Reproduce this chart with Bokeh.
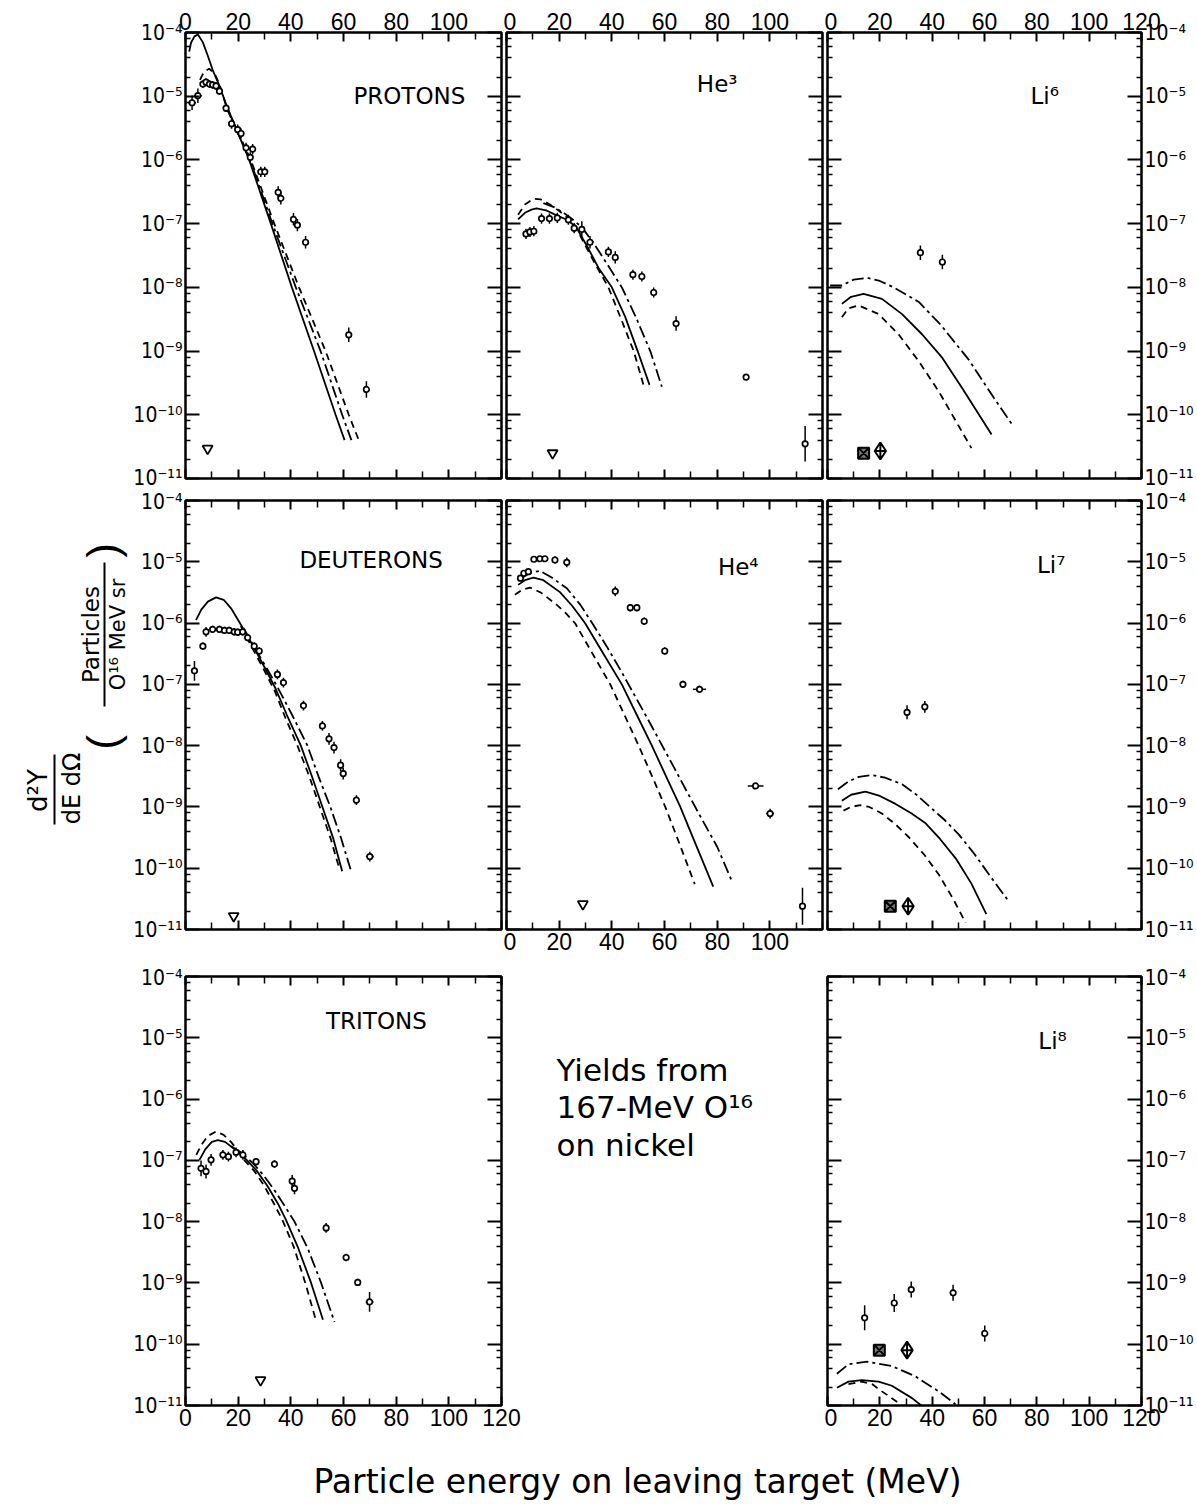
import math
from bokeh.plotting import figure
from bokeh.models import (Range1d, LinearAxis, LogAxis, FixedTicker,
                          CustomJSTickFormatter, Label)
from bokeh.layouts import row, column
from bokeh.embed import file_html
from bokeh.resources import INLINE

# ---------------------------------------------------------------- data
X_LAB_100 = [0, 20, 40, 60, 80, 100]
X_LAB_120 = [0, 20, 40, 60, 80, 100, 120]
X_MINOR = [10, 30, 50, 70, 90, 110]
Y_MAJOR = [1e-11, 1e-10, 1e-9, 1e-8, 1e-7, 1e-6, 1e-5, 1e-4]
Y_MINOR_MULT = [2, 4, 6, 8]

# PROTONS
PROTON_E = [2.5, 4.7, 6.6, 7.8, 9.1, 10.3, 11.6, 12.9, 15.4, 17.5, 19.8, 21.1,
            23.0, 24.6, 25.5, 28.6, 30.1, 35.2, 36.2, 41.0, 42.5, 45.6, 62.0, 68.7]
PROTON_Y = [7.9e-6, 1.02e-5, 1.55e-5, 1.66e-5, 1.55e-5, 1.51e-5, 1.45e-5, 1.2e-5,
            6.5e-6, 3.7e-6, 3.0e-6, 2.6e-6, 1.55e-6, 1.1e-6, 1.48e-6, 6.5e-7,
            6.5e-7, 3.1e-7, 2.5e-7, 1.17e-7, 9.5e-8, 5.1e-8, 1.8e-9, 2.5e-10]
PROTON_DY = [1.3, 1.3, 1.15, 1.15, 1.15, 1.15, 1.15, 1.15, 1.15, 1.2, 1.2, 1.2,
             1.2, 1.2, 1.2, 1.2, 1.2, 1.25, 1.25, 1.25, 1.25, 1.25, 1.3, 1.35]
PROTON_DX = [1.5, 1.5, 0, 0, 0, 0, 0, 0, 0, 0, 0, 0,
             0, 0, 0, 0, 0, 0, 0, 0, 0, 0, 0, 0]
PROTON_SOLID_E = [1.4, 2.1, 3.4, 4.7, 6.6, 8.4, 10.3, 12.9, 15.4, 19.8, 24.2, 32.4, 40.4, 48.8, 57.0, 60.4]
PROTON_SOLID_Y = [5.0e-5, 6.9e-5, 8.7e-5, 9.3e-5, 7.0e-5, 4.4e-5, 2.6e-5, 1.45e-5, 7.5e-6, 2.7e-6,
                  1.0e-6, 1.0e-7, 1.0e-8, 1.0e-9, 1.0e-10, 4.0e-11]
PROTON_DASH_E = [5.5, 7.0, 9.0, 11.0, 13.0, 15.4, 19.8, 24.8, 33.7, 43.1, 53.2, 62.0, 65.8]
PROTON_DASH_Y = [1.8e-5, 2.4e-5, 2.7e-5, 2.3e-5, 1.5e-5, 7.1e-6, 2.8e-6, 1.0e-6, 1.0e-7,
                 1.0e-8, 1.0e-9, 1.0e-10, 4.0e-11]
PROTON_DASHDOT_E = [15.4, 20.0, 24.5, 33.0, 41.9, 51.3, 59.5, 63.0]
PROTON_DASHDOT_Y = [6.8e-6, 2.6e-6, 1.0e-6, 1.0e-7, 1.0e-8, 1.0e-9, 1.0e-10, 4.0e-11]
PROTON_TRI_E = [8.4]
PROTON_TRI_Y = [2.95e-11]

# He3
HE3_E = [7.4, 8.9, 10.4, 13.3, 16.3, 19.3, 23.5, 25.7, 28.6, 31.7, 38.7, 41.3,
         48.0, 51.4, 55.9, 64.4, 91.0, 113.4]
HE3_Y = [6.9e-8, 7.4e-8, 7.6e-8, 1.2e-7, 1.2e-7, 1.23e-7, 1.15e-7, 8.5e-8, 8.1e-8,
         5.1e-8, 3.6e-8, 2.95e-8, 1.58e-8, 1.48e-8, 8.3e-9, 2.7e-9, 3.9e-10, 3.5e-11]
HE3_DY = [1.2, 1.2, 1.2, 1.2, 1.2, 1.2, 1.2, 1.2, 1.35, 1.25, 1.2, 1.25,
          1.2, 1.2, 1.2, 1.3, 1.1, 1.9]
HE3_SOLID_E = [4.4, 7.0, 9.5, 11.4, 15.0, 19.0, 23.0, 26.4, 30.5, 35.0, 40.0, 45.0, 49.8, 54.3]
HE3_SOLID_Y = [1.17e-7, 1.48e-7, 1.66e-7, 1.74e-7, 1.62e-7, 1.35e-7, 1.15e-7, 8.9e-8,
               4.5e-8, 2.0e-8, 1.0e-8, 3.5e-9, 1.0e-9, 2.95e-10]
HE3_DASH_E = [4.4, 7.0, 10.2, 13.0, 16.5, 20.0, 23.0, 25.6, 30.0, 34.0, 38.7, 43.5, 48.3, 52.0]
HE3_DASH_Y = [1.38e-7, 2.0e-7, 2.45e-7, 2.4e-7, 2.0e-7, 1.58e-7, 1.26e-7, 1.0e-7,
              4.5e-8, 2.2e-8, 1.0e-8, 3.2e-9, 1.0e-9, 2.95e-10]
HE3_DASHDOT_E = [14.0, 18.0, 22.0, 25.0, 28.5, 33.0, 38.0, 43.8, 49.0, 54.6, 59.0]
HE3_DASHDOT_Y = [2.1e-7, 1.82e-7, 1.45e-7, 1.17e-7, 8.9e-8, 5.0e-8, 2.4e-8, 1.0e-8,
                 3.5e-9, 1.0e-9, 2.75e-10]
HE3_TRI_E = [17.5]
HE3_TRI_Y = [2.5e-11]

# Li6
LI6_E = [35.5, 43.9]
LI6_Y = [3.5e-8, 2.5e-8]
LI6_DY = [1.3, 1.3]
LI6_SQ_E, LI6_SQ_Y = [13.8], [2.5e-11]
LI6_DIA_E, LI6_DIA_Y = [20.2], [2.7e-11]
LI6_SOLID_E = [5.5, 9.0, 13.8, 20.8, 28.5, 36.2, 43.9, 51.5, 62.7]
LI6_SOLID_Y = [5.5e-9, 7.1e-9, 7.9e-9, 6.6e-9, 3.8e-9, 1.82e-9, 7.8e-10, 2.6e-10, 4.9e-11]
LI6_DASH_E = [5.5, 8.0, 11.9, 19.6, 27.2, 34.9, 42.6, 55.0]
LI6_DASH_Y = [3.4e-9, 4.7e-9, 5.2e-9, 3.8e-9, 1.82e-9, 6.9e-10, 2.3e-10, 3.0e-11]
LI6_DASHDOT_E = [1.0, 5.5, 10.0, 15.1, 20.0, 25.3, 34.9, 43.2, 54.1, 63.0, 70.5]
LI6_DASHDOT_Y = [1.07e-8, 1.07e-8, 1.32e-8, 1.41e-8, 1.26e-8, 1.0e-8, 5.9e-9, 2.6e-9,
                 7.2e-10, 2.0e-10, 7.1e-11]

# DEUTERONS
DEUT_E = [3.4, 6.6, 7.8, 10.3, 12.9, 14.8, 16.6, 18.5, 19.8, 21.7, 23.6, 26.1, 28.0,
          34.9, 37.2, 44.8, 52.0, 54.5, 56.4, 58.9, 59.9, 64.9, 70.0]
DEUT_Y = [1.66e-7, 4.2e-7, 7.2e-7, 7.9e-7, 7.9e-7, 7.6e-7, 7.6e-7, 7.2e-7, 7.1e-7,
          7.2e-7, 5.8e-7, 4.2e-7, 3.5e-7, 1.45e-7, 1.07e-7, 4.5e-8, 2.1e-8, 1.29e-8,
          9.3e-9, 4.8e-9, 3.5e-9, 1.29e-9, 1.55e-10]
DEUT_DY = [1.45, 1.15, 1.2, 1.15, 1.15, 1.15, 1.15, 1.15, 1.15, 1.15, 1.15, 1.15, 1.15,
           1.2, 1.2, 1.2, 1.2, 1.25, 1.25, 1.25, 1.25, 1.2, 1.2]
DEUT_DX = [0, 0, 0, 0, 0, 0, 0, 0, 0, 0, 0, 0, 0,
           0, 0, 0, 0, 0, 0, 0, 0, 0, 1.5]
DEUT_SOLID_E = [4.0, 6.0, 8.5, 11.6, 14.5, 17.3, 21.1, 26.0, 30.0, 34.0, 38.5, 43.8, 48.0, 52.0, 56.0, 59.5]
DEUT_SOLID_Y = [1.12e-6, 1.66e-6, 2.24e-6, 2.63e-6, 2.4e-6, 1.74e-6, 9.3e-7, 4.0e-7,
                1.9e-7, 8.9e-8, 3.16e-8, 1.0e-8, 3.16e-9, 1.0e-9, 3.16e-10, 8.9e-11]
DEUT_DASH_E = [21.0, 26.0, 30.0, 34.0, 38.0, 42.5, 47.0, 51.0, 55.0, 58.6]
DEUT_DASH_Y = [8.9e-7, 3.5e-7, 1.66e-7, 7.6e-8, 2.8e-8, 1.0e-8, 3.16e-9, 1.0e-9, 3.16e-10, 9.3e-11]
DEUT_DASHDOT_E = [22.0, 27.0, 31.0, 35.0, 40.5, 46.3, 50.5, 55.0, 59.0, 62.9]
DEUT_DASHDOT_Y = [8.3e-7, 3.5e-7, 1.78e-7, 8.9e-8, 3.16e-8, 1.0e-8, 3.16e-9, 1.0e-9, 3.16e-10, 8.9e-11]
DEUT_TRI_E = [18.3]
DEUT_TRI_Y = [1.66e-11]

# He4
HE4_E = [5.3, 6.6, 8.3, 10.4, 12.7, 14.6, 18.4, 22.9, 41.3, 47.0, 49.5, 52.3, 60.1,
         67.0, 73.3, 94.6, 100.1, 112.4]
HE4_Y = [5.4e-6, 6.5e-6, 6.9e-6, 1.1e-5, 1.12e-5, 1.12e-5, 1.07e-5, 9.8e-6, 3.3e-6,
         1.78e-6, 1.78e-6, 1.07e-6, 3.5e-7, 1.0e-7, 8.3e-8, 2.2e-9, 7.8e-10, 2.4e-11]
HE4_DY = [1.1, 1.1, 1.1, 1.1, 1.1, 1.1, 1.15, 1.2, 1.2, 1.15, 1.15, 1.15, 1.15,
          1.15, 1.15, 1.1, 1.2, 2.0]
HE4_DX = [0, 0, 0, 0, 0, 0, 0, 0, 0, 0, 0, 0, 0,
          0, 2.5, 3.0, 1.5, 1.0]
HE4_SOLID_E = [4.4, 7.0, 10.2, 14.0, 20.3, 25.0, 29.8, 36.8, 43.8, 49.5, 55.2, 60.6,
               66.0, 70.8, 75.6, 78.5]
HE4_SOLID_Y = [4.2e-6, 5.0e-6, 5.5e-6, 5.0e-6, 3.2e-6, 1.9e-6, 1.0e-6, 3.16e-7, 1.0e-7,
               3.16e-8, 1.0e-8, 3.16e-9, 1.0e-9, 3.16e-10, 1.0e-10, 5.0e-11]
HE4_DASH_E = [3.2, 6.0, 8.9, 13.0, 19.0, 22.5, 26.0, 32.7, 39.4, 44.8, 50.2, 55.3,
              60.3, 64.8, 69.2, 71.5]
HE4_DASH_Y = [2.9e-6, 3.5e-6, 3.8e-6, 3.16e-6, 2.0e-6, 1.45e-6, 1.0e-6, 3.16e-7, 1.0e-7,
              3.16e-8, 1.0e-8, 3.16e-9, 1.0e-9, 3.16e-10, 1.0e-10, 5.5e-11]
HE4_DASHDOT_E = [5.7, 9.0, 12.7, 17.0, 22.9, 28.0, 33.0, 38.0, 43.2, 48.0, 53.3, 58.5,
                 63.5, 68.5, 73.7, 80.0, 85.7]
HE4_DASHDOT_Y = [5.4e-6, 6.6e-6, 7.1e-6, 5.6e-6, 3.7e-6, 2.0e-6, 9.3e-7, 4.2e-7, 1.74e-7,
                 7.4e-8, 2.9e-8, 1.12e-8, 4.5e-9, 1.78e-9, 6.9e-10, 2.24e-10, 6.0e-11]
HE4_TRI_E = [29.0]
HE4_TRI_Y = [2.6e-11]

# Li7
LI7_E = [30.4, 37.2]
LI7_Y = [3.5e-8, 4.3e-8]
LI7_DY = [1.3, 1.25]
LI7_SQ_E, LI7_SQ_Y = [24.0], [2.4e-11]
LI7_DIA_E, LI7_DIA_Y = [30.8], [2.4e-11]
LI7_SOLID_E = [5.5, 9.0, 14.5, 20.0, 26.0, 32.0, 37.5, 43.0, 49.0, 55.0, 60.7]
LI7_SOLID_Y = [1.26e-9, 1.58e-9, 1.78e-9, 1.51e-9, 1.12e-9, 7.9e-10, 5.4e-10, 3.0e-10,
               1.45e-10, 5.6e-11, 1.78e-11]
LI7_DASH_E = [6.1, 9.0, 12.5, 16.0, 20.8, 26.0, 31.1, 37.0, 42.6, 48.0, 52.8]
LI7_DASH_Y = [8.7e-10, 1.0e-9, 1.07e-9, 1.0e-9, 7.8e-10, 5.2e-10, 3.2e-10, 1.66e-10,
              7.8e-11, 3.16e-11, 1.29e-11]
LI7_DASHDOT_E = [4.0, 8.0, 12.0, 17.0, 22.0, 28.5, 34.0, 40.0, 45.0, 50.3, 56.0, 61.8, 69.2]
LI7_DASHDOT_Y = [1.95e-9, 2.6e-9, 3.1e-9, 3.3e-9, 3.0e-9, 2.34e-9, 1.58e-9, 9.3e-10,
                 6.0e-10, 3.5e-10, 1.74e-10, 7.8e-11, 2.9e-11]

# TRITONS
TRIT_E = [5.9, 7.8, 9.7, 14.2, 16.3, 19.2, 21.8, 26.8, 33.8, 40.5, 41.4, 53.4, 61.0, 65.4, 69.9]
TRIT_Y = [7.4e-8, 6.6e-8, 1.02e-7, 1.23e-7, 1.15e-7, 1.35e-7, 1.23e-7, 9.5e-8, 8.7e-8,
          4.6e-8, 3.5e-8, 7.9e-9, 2.6e-9, 1.02e-9, 4.9e-10]
TRIT_DY = [1.35, 1.3, 1.25, 1.2, 1.2, 1.2, 1.2, 1.15, 1.15, 1.25, 1.25, 1.2, 1.15, 1.15, 1.45]
TRIT_DX = [0, 0, 0, 0, 0, 0, 0, 0, 0, 0, 0, 0, 0, 0, 1.5]
TRIT_SOLID_E = [5.3, 7.5, 10.0, 12.3, 15.0, 19.9, 23.4, 27.0, 31.0, 35.0, 38.2, 42.5, 47.7, 52.2]
TRIT_SOLID_Y = [1.02e-7, 1.51e-7, 2.0e-7, 2.14e-7, 2.0e-7, 1.38e-7, 1.0e-7, 6.8e-8,
                3.9e-8, 2.0e-8, 1.06e-8, 4.0e-9, 1.0e-9, 2.5e-10]
TRIT_DASH_E = [4.1, 6.0, 8.5, 11.6, 14.5, 17.3, 20.0, 22.4, 26.0, 29.8, 33.5, 36.8, 41.0, 45.5, 49.6]
TRIT_DASH_Y = [1.23e-7, 1.78e-7, 2.5e-7, 2.95e-7, 2.6e-7, 2.0e-7, 1.41e-7, 1.0e-7, 6.8e-8,
               3.9e-8, 2.0e-8, 1.06e-8, 4.0e-9, 1.0e-9, 2.4e-10]
TRIT_DASHDOT_E = [17.3, 21.0, 25.6, 29.5, 33.5, 37.5, 41.4, 46.5, 51.5, 56.6]
TRIT_DASHDOT_Y = [1.7e-7, 1.35e-7, 9.0e-8, 5.8e-8, 3.4e-8, 1.85e-8, 1.0e-8, 3.6e-9, 1.0e-9, 2.3e-10]
TRIT_TRI_E = [28.5]
TRIT_TRI_Y = [2.6e-11]

# Li8
LI8_E = [14.2, 25.5, 32.0, 48.0, 60.1]
LI8_Y = [2.7e-10, 4.7e-10, 7.8e-10, 6.9e-10, 1.5e-10]
LI8_DY = [1.6, 1.4, 1.35, 1.35, 1.35]
LI8_SQ_E, LI8_SQ_Y = [19.8], [8.0e-11]
LI8_DIA_E, LI8_DIA_Y = [30.4], [8.0e-11]
LI8_SOLID_E = [3.6, 8.0, 13.1, 19.5, 24.6, 32.3, 36.1]
LI8_SOLID_Y = [1.95e-11, 2.45e-11, 2.6e-11, 2.45e-11, 2.1e-11, 1.32e-11, 9.8e-12]
LI8_DASH_E = [8.0, 13.1, 17.0, 20.8, 27.2, 29.0]
LI8_DASH_Y = [2.24e-11, 2.45e-11, 2.24e-11, 1.7e-11, 1.1e-11, 9.1e-12]
LI8_DASHDOT_E = [3.6, 8.0, 15.1, 24.6, 33.5, 42.5, 48.9]
LI8_DASHDOT_Y = [3.3e-11, 4.7e-11, 5.2e-11, 4.4e-11, 3.0e-11, 1.7e-11, 1.05e-11]

# ---------------------------------------------------------------- style
TICK_FONT = "Liberation Sans"
YTICK_FONT = "DejaVu Sans Condensed, DejaVu Sans"
TEXT_FONT = "DejaVu Sans"
DASH = "7 5"
DASHDOT = "12 4 3 4"

YFMT_CODE = """
const e = Math.round(Math.log10(tick));
const m = {'-':'\\u207b','0':'\\u2070','1':'\\u00b9','2':'\\u00b2','3':'\\u00b3',
           '4':'\\u2074','5':'\\u2075','6':'\\u2076','7':'\\u2077','8':'\\u2078','9':'\\u2079'};
let s = '';
for (const c of String(e)) { s += m[c]; }
return '10' + s;
"""
EMPTY_CODE = "return '';"

Y_MINOR = [m * d for d in Y_MAJOR[:-1] for m in Y_MINOR_MULT]


def hide_labels(ax):
    ax.formatter = CustomJSTickFormatter(code=EMPTY_CODE)
    ax.major_label_text_font_size = "1px"
    ax.major_label_standoff = 0


def style_ticks(ax, major_in, minor_in):
    ax.axis_line_color = None
    ax.major_tick_in = major_in
    ax.major_tick_out = 0
    ax.minor_tick_in = minor_in
    ax.minor_tick_out = 0
    ax.major_tick_line_width = 2
    ax.minor_tick_line_width = 1.5
    ax.major_tick_line_color = "black"
    ax.minor_tick_line_color = "black"


def style_x(ax, labels):
    if labels is None:
        ax.ticker = FixedTicker(ticks=X_LAB_120, minor_ticks=X_MINOR)
        hide_labels(ax)
    else:
        minor = X_MINOR + [t for t in X_LAB_120 if t not in labels]
        ax.ticker = FixedTicker(ticks=labels, minor_ticks=minor)
        ax.major_label_text_font_size = "23px"
        ax.major_label_text_font = TICK_FONT
        ax.major_label_text_color = "black"
        ax.major_label_standoff = 3
    style_ticks(ax, 9, 7)


def style_y(ax, show):
    ax.ticker = FixedTicker(ticks=Y_MAJOR, minor_ticks=Y_MINOR)
    if show:
        ax.formatter = CustomJSTickFormatter(code=YFMT_CODE)
        ax.major_label_text_font_size = "21px"
        ax.major_label_text_font = YTICK_FONT
        ax.major_label_text_color = "black"
        ax.major_label_standoff = 3
    else:
        hide_labels(ax)
    style_ticks(ax, 14, 5)


def make_panel(spec):
    p = figure(width=spec["w"], height=spec["h"],
               x_range=Range1d(0, 120), y_range=Range1d(1e-11, 1e-4),
               y_axis_type="log", output_backend="svg", toolbar_location=None,
               min_border_left=spec["bl"], min_border_right=spec["br"],
               min_border_top=spec["bt"], min_border_bottom=spec["bb"])
    p.grid.visible = False
    p.outline_line_color = "black"
    p.outline_line_width = 2.5
    p.background_fill_color = "white"
    p.border_fill_color = "white"

    style_x(p.below[0], spec.get("bottom"))
    top_ax = LinearAxis()
    style_x(top_ax, spec.get("top"))
    p.add_layout(top_ax, "above")
    style_y(p.left[0], spec.get("left", False))
    right_ax = LogAxis()
    style_y(right_ax, spec.get("right", False))
    p.add_layout(right_ax, "right")

    # model curves
    se, sy = spec["solid"]
    p.line(se, sy, line_color="black", line_width=1.8)
    de, dy = spec["dash"]
    p.line(de, dy, line_color="black", line_width=1.8, line_dash=DASH)
    ce, cy = spec["dashdot"]
    p.line(ce, cy, line_color="black", line_width=1.8, line_dash=DASHDOT)

    # data points
    E, Y, DY = spec["pts"]
    DX = spec.get("dx")
    p.segment(x0=E, y0=[y / f for y, f in zip(Y, DY)], x1=E, y1=[y * f for y, f in zip(Y, DY)],
              line_color="black", line_width=1.5)
    if DX is not None:
        hx = [(e, y, d) for e, y, d in zip(E, Y, DX) if d > 0]
        p.segment(x0=[e - d for e, y, d in hx], y0=[y for e, y, d in hx],
                  x1=[e + d for e, y, d in hx], y1=[y for e, y, d in hx],
                  line_color="black", line_width=1.5)
    p.scatter(E, Y, marker="circle", size=5.5, line_color="black", line_width=1.7,
              fill_color="white")

    if "tri" in spec:
        te, ty = spec["tri"]
        p.scatter(te, ty, marker="inverted_triangle", size=10, line_color="black",
                  line_width=1.8, fill_color="white")
    if "sq" in spec:
        qe, qy = spec["sq"]
        p.scatter(qe, qy, marker="square_x", size=11, line_color="black",
                  line_width=2, fill_color="#777777")
    if "dia" in spec:
        ae, ay = spec["dia"]
        p.scatter(ae, ay, marker="diamond_cross", size=17, line_color="black",
                  line_width=2, fill_color="white")

    nx, ny = spec["name_at"]
    p.add_layout(Label(x=nx, y=ny, text=spec["name"], text_font=TEXT_FONT,
                       text_font_size="23px", text_align="center",
                       text_baseline="middle", text_color="black"))
    return p


def blank(width, height):
    p = figure(width=width, height=height, x_range=Range1d(0, width),
               y_range=Range1d(height, 0), output_backend="svg",
               toolbar_location=None, x_axis_location=None, y_axis_location=None,
               min_border_left=0, min_border_right=0, min_border_top=0, min_border_bottom=0)
    p.grid.visible = False
    p.outline_line_color = None
    p.background_fill_color = "white"
    p.border_fill_color = "white"
    return p


YLAB_W = 130
R1 = dict(h=489, bt=32, bb=11)
R2 = dict(h=476, bt=11, bb=36)
R2M = dict(h=476, bt=9, bb=31)
R3 = dict(h=474, bt=11, bb=34)
C1 = dict(w=373, bl=54, br=2)
C2 = dict(w=321, bl=3, br=2)
C3 = dict(w=373, bl=3, br=56)

specs = {
    "p": dict(**R1, **C1, top=X_LAB_100, left=True, name="PROTONS", name_at=(85, 1.0e-5),
              pts=(PROTON_E, PROTON_Y, PROTON_DY), dx=PROTON_DX,
              solid=(PROTON_SOLID_E, PROTON_SOLID_Y), dash=(PROTON_DASH_E, PROTON_DASH_Y),
              dashdot=(PROTON_DASHDOT_E, PROTON_DASHDOT_Y), tri=(PROTON_TRI_E, PROTON_TRI_Y)),
    "he3": dict(**R1, **C2, top=X_LAB_100, name="He\u00b3", name_at=(80, 1.55e-5),
                pts=(HE3_E, HE3_Y, HE3_DY),
                solid=(HE3_SOLID_E, HE3_SOLID_Y), dash=(HE3_DASH_E, HE3_DASH_Y),
                dashdot=(HE3_DASHDOT_E, HE3_DASHDOT_Y), tri=(HE3_TRI_E, HE3_TRI_Y)),
    "li6": dict(**R1, **C3, top=X_LAB_120, right=True, name="Li\u2076", name_at=(83, 1.0e-5),
                pts=(LI6_E, LI6_Y, LI6_DY),
                solid=(LI6_SOLID_E, LI6_SOLID_Y), dash=(LI6_DASH_E, LI6_DASH_Y),
                dashdot=(LI6_DASHDOT_E, LI6_DASHDOT_Y),
                sq=(LI6_SQ_E, LI6_SQ_Y), dia=(LI6_DIA_E, LI6_DIA_Y)),
    "d": dict(**R2, **C1, left=True, name="DEUTERONS", name_at=(70.5, 1.05e-5),
              pts=(DEUT_E, DEUT_Y, DEUT_DY), dx=DEUT_DX,
              solid=(DEUT_SOLID_E, DEUT_SOLID_Y), dash=(DEUT_DASH_E, DEUT_DASH_Y),
              dashdot=(DEUT_DASHDOT_E, DEUT_DASHDOT_Y), tri=(DEUT_TRI_E, DEUT_TRI_Y)),
    "he4": dict(**R2M, **C2, bottom=X_LAB_100, name="He\u2074", name_at=(88, 8.3e-6),
                pts=(HE4_E, HE4_Y, HE4_DY), dx=HE4_DX,
                solid=(HE4_SOLID_E, HE4_SOLID_Y), dash=(HE4_DASH_E, HE4_DASH_Y),
                dashdot=(HE4_DASHDOT_E, HE4_DASHDOT_Y), tri=(HE4_TRI_E, HE4_TRI_Y)),
    "li7": dict(**R2, **C3, right=True, name="Li\u2077", name_at=(85.5, 9.0e-6),
                pts=(LI7_E, LI7_Y, LI7_DY),
                solid=(LI7_SOLID_E, LI7_SOLID_Y), dash=(LI7_DASH_E, LI7_DASH_Y),
                dashdot=(LI7_DASHDOT_E, LI7_DASHDOT_Y),
                sq=(LI7_SQ_E, LI7_SQ_Y), dia=(LI7_DIA_E, LI7_DIA_Y)),
    "t": dict(**R3, w=401, bl=54, br=30, bottom=X_LAB_120, left=True, name="TRITONS",
              name_at=(72.5, 1.9e-5),
              pts=(TRIT_E, TRIT_Y, TRIT_DY), dx=TRIT_DX,
              solid=(TRIT_SOLID_E, TRIT_SOLID_Y), dash=(TRIT_DASH_E, TRIT_DASH_Y),
              dashdot=(TRIT_DASHDOT_E, TRIT_DASHDOT_Y), tri=(TRIT_TRI_E, TRIT_TRI_Y)),
    "li8": dict(**R3, **C3, bottom=X_LAB_120, right=True, name="Li\u2078", name_at=(86, 8.7e-6),
                pts=(LI8_E, LI8_Y, LI8_DY),
                solid=(LI8_SOLID_E, LI8_SOLID_Y), dash=(LI8_DASH_E, LI8_DASH_Y),
                dashdot=(LI8_DASHDOT_E, LI8_DASHDOT_Y),
                sq=(LI8_SQ_E, LI8_SQ_Y), dia=(LI8_DIA_E, LI8_DIA_Y)),
}

P = {k: make_panel(v) for k, v in specs.items()}

# middle text cell (x from 531 to 824 on the page)
mid = blank(293, 474)
for txt, yy in [("Yields from", 103), ("167-MeV O\u00b9\u2076", 144), ("on nickel", 186)]:
    mid.add_layout(Label(x=25, y=yy, text=txt, text_font=TEXT_FONT, text_font_size="31px",
                         text_align="left", text_baseline="middle", text_color="black"))

# y title
ylab = blank(YLAB_W, 1439)
def ytext(x, y, t, size, font=TEXT_FONT):
    ylab.add_layout(Label(x=x, y=y, text=t, angle=math.pi / 2, text_font=font,
                          text_font_size=size, text_align="center", text_baseline="middle",
                          text_color="black"))
ytext(37, 790, "d\u00b2Y", "26px")
ytext(71, 788, "dE d\u03a9", "24px")
ylab.segment(x0=[54], y0=[754], x1=[54], y1=[824], line_color="black", line_width=2)
ytext(90, 634, "Particles", "23px")
ytext(117, 634, "O\u00b9\u2076 MeV sr", "21px")
ylab.segment(x0=[104], y0=[562], x1=[104], y1=[706], line_color="black", line_width=2)
ytext(102, 742, "(", "44px", "Liberation Sans")
ytext(102, 550, ")", "44px", "Liberation Sans")

# x title
xlab = blank(1197, 68)
xlab.add_layout(Label(x=637, y=42, text="Particle energy on leaving target (MeV)",
                      text_font=TEXT_FONT, text_font_size="33px", text_align="center",
                      text_baseline="middle", text_color="black"))

grid = column(row(P["p"], P["he3"], P["li6"]),
              row(P["d"], P["he4"], P["li7"]),
              row(P["t"], mid, P["li8"]))
layout = column(row(ylab, grid), xlab)

open("out.html", "w", encoding="utf-8").write(file_html(layout, INLINE, title="Yields"))
